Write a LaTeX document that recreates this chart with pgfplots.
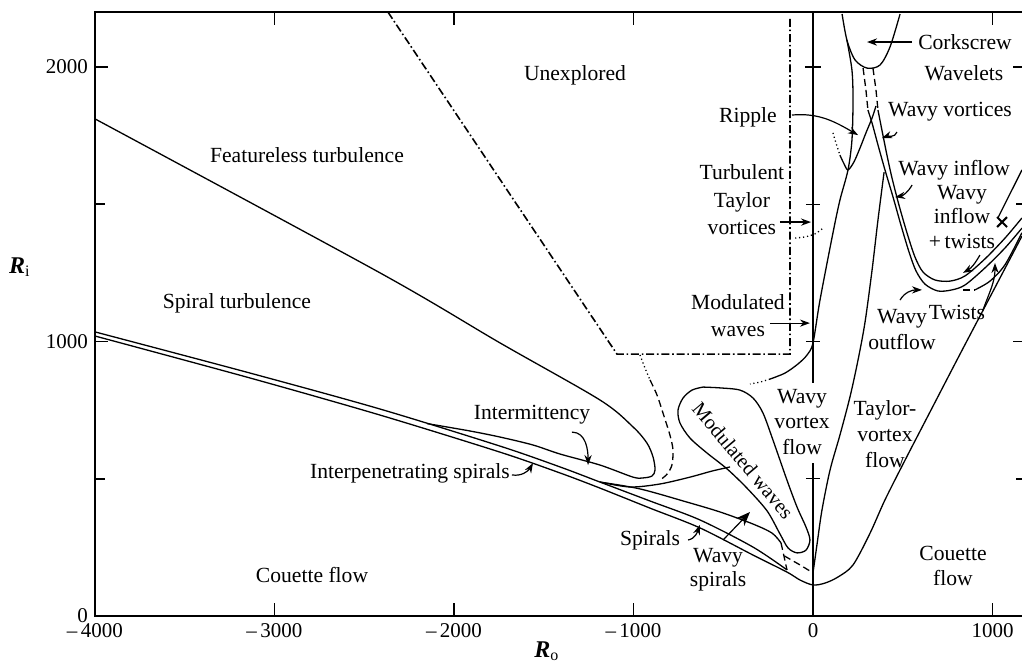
\documentclass[border=0pt]{standalone}
\usepackage{fontspec}
\setmainfont{Liberation Serif}
\usepackage{pgfplots}
\pgfplotsset{compat=1.18}
\usetikzlibrary{arrows.meta}
\begin{document}
\begin{tikzpicture}[
  lab/.style={font=\fontsize{10.8}{12.8}\selectfont, align=center, inner sep=0pt},
  arr/.style={line width=0.6pt, -{Stealth[length=5pt,width=3.6pt]}},
  dd/.style={dash pattern=on 4pt off 1.4pt on 0.8pt off 1.4pt},
  dsh/.style={dash pattern=on 3.5pt off 2pt},
  dtt/.style={dash pattern=on 0.6pt off 1.4pt},
]
\begin{axis}[
  scale only axis, width=465.35pt, height=301.95pt,
  xmin=-4000, xmax=1185, ymin=0, ymax=2200,
  axis line style={line width=1pt},
  tick align=inside,
  major tick length=6.5pt, minor tick length=5pt,
  tick style={black, line width=0.8pt},
  xtick={-4000,-3000,-2000,-1000,0,1000},
  xticklabels={\textendash\,4000,\textendash\,3000,\textendash\,2000,\textendash\,1000,0,1000},
  ytick={0,1000,2000}, minor ytick={500,1500},
  yticklabels={0,1000,2000},
  xticklabel pos=lower, yticklabel pos=left,
  tick label style={font=\fontsize{10.5}{12}\selectfont},
  clip=false,
  every axis plot/.append style={black, line width=0.65pt, mark=none},
]
% R_o = 0 line
\addplot[black, line width=0.75pt] coordinates {(0,0) (0,557)};
\addplot[black, line width=0.75pt] coordinates {(0,849) (0,2200)};
\draw[line width=0.7pt] (axis cs:-40,500) -- (axis cs:40,500);
\draw[line width=0.7pt] (axis cs:-40,1000) -- (axis cs:40,1000);
\draw[line width=0.7pt] (axis cs:-40,1500) -- (axis cs:40,1500);
\draw[line width=0.7pt] (axis cs:-45,2000) -- (axis cs:45,2000);

% unexplored boundary (dash-dot)
\addplot[black, dd, line width=0.8pt] coordinates {(-2368,2200) (-1092,954) (-128,954) (-128,2180)};

% featureless turbulence / intermittency
\addplot[black, smooth] coordinates {(-4000,1811) (-2412,1250) (-1744,995) (-1187,787) (-1003,689) (-925,630) (-891,579) (-880,532) (-897,510) (-947,503) (-1003,506) (-1187,550) (-1409,590) (-1560,623) (-1744,652) (-1911,674) (-2150,701)};

% interpenetrating spirals (double line)
\addplot[black, smooth] coordinates {(-4000,1035) (-3136,885) (-2412,754) (-1744,619) (-1409,543) (-1187,488) (-908,419) (-630,350) (-334,251) (-145,168)};
\addplot[black, smooth] coordinates {(-4000,1020) (-3136,867) (-2412,732) (-1744,597) (-1409,521) (-1187,466) (-908,393) (-630,321) (-334,222) (-145,160) (-72,131) (0,113) (67,120) (139,142) (223,186) (318,302) (401,423) (513,568) (669,765) (819,954) (986,1162) (1164,1384)};

% wavy spirals boundary
\addplot[black, smooth] coordinates {(-1187,488) (-964,463) (-702,415) (-518,379) (-334,335) (-228,302) (-178,266)};
\addplot[black, dsh] coordinates {(-178,266) (-162,219) (-145,168)};
\addplot[black, dsh] coordinates {(-160,219) (-72,186) (0,157)};

% curve to modulated waves
\addplot[black, smooth] coordinates {(-1187,488) (-1019,470) (-852,481) (-685,506) (-563,528) (-462,543)};

% modulated waves loop
\addplot[black, smooth] coordinates {(-613,834) (-518,831) (-407,823) (-334,794) (-279,740) (-223,641) (-145,495) (-89,397) (-39,324) (-17,277) (-39,240) (-89,230) (-139,248) (-184,299) (-256,383) (-368,466) (-479,536) (-591,594) (-685,648) (-741,703) (-752,750) (-724,794) (-674,823) (-613,834)};

% dotted/dashed boundary below unexplored corner
\addplot[black, dtt] coordinates {(-964,951) (-936,903) (-908,860)};
\addplot[black, dsh, smooth] coordinates {(-908,860) (-869,805) (-836,740) (-797,659) (-780,605) (-786,550) (-813,517) (-852,495)};

% wavy vortex onset (steep)
\addplot[black, smooth] coordinates {(0,157) (22,259) (50,386) (95,532) (150,659) (206,798) (251,933) (290,1071) (329,1260) (362,1443) (396,1617)};

% big U (wavy inflow / outflow)
\addplot[black, dsh] coordinates {(279,1996) (295,1916) (306,1843)};
\addplot[black, smooth] coordinates {(306,1843) (329,1796) (362,1716) (401,1625) (446,1526) (490,1424) (535,1326) (574,1257) (624,1209) (696,1184) (774,1188) (847,1206) (958,1268) (1070,1341) (1164,1413)};
\addplot[black, dsh] coordinates {(334,1996) (351,1916) (362,1843)};
\addplot[black, smooth] coordinates {(362,1843) (384,1770) (412,1679) (440,1596) (479,1497) (524,1395) (568,1308) (613,1253) (680,1224) (763,1220) (847,1239) (958,1301) (1070,1377) (1164,1450)};
\addplot[black, dsh] coordinates {(836,1188) (902,1188)};
\addplot[black, smooth] coordinates {(902,1188) (986,1220) (1070,1280) (1164,1396)};
\addplot[black] coordinates {(1030,1450) (1164,1625)};
\addplot[black, only marks, mark=x, mark size=3.5pt, mark options={line width=1pt}] coordinates {(1053,1435)};

% corkscrew
\addplot[black, smooth] coordinates {(162,2193) (189,2098) (234,2026) (301,1996) (373,2007) (429,2073) (485,2193)};

% modulated waves upper boundary through ripple
\addplot[black, smooth] coordinates {(189,2098) (217,1989) (223,1880) (217,1734) (195,1625) (150,1515) (111,1395) (39,1151) (0,995) (-33,951) (-84,918) (-156,885) (-240,863)};
\addplot[black, dtt] coordinates {(-240,863) (-295,852) (-351,845)};

% ripple V
\addplot[black, dtt] coordinates {(111,1760) (128,1723) (150,1679)};
\addplot[black, smooth] coordinates {(150,1679) (173,1647) (195,1625) (228,1654) (262,1705) (295,1760) (329,1814) (351,1858)};

% turbulent Taylor vortices dotted arc
\addplot[black, dtt, smooth] coordinates {(-100,1377) (-45,1381) (11,1392) (56,1413)};

% labels
\node[lab] at (axis cs:-1326,1971) {Unexplored};
\node[lab] at (axis cs:-2819,1679) {Featureless turbulence};
\node[lab] at (axis cs:-3209,1140) {Spiral turbulence};
\node[lab] at (axis cs:-1565,732) {Intermittency};
\node[lab] at (axis cs:-2245,521) {Interpenetrating spirals};
\node[lab] at (axis cs:-2791,149) {Couette flow};
\node[lab] at (axis cs:-908,277) {Spirals};
\node[lab, font=\fontsize{10.8}{12}\selectfont] at (axis cs:-529,168) {Wavy\\spirals};
\node[lab, font=\fontsize{10.2}{12}\selectfont, rotate=-49.8] at (axis cs:-390,566) {Modulated waves};
\node[lab] at (axis cs:-61,707) {Wavy\\vortex\\flow};
\node[lab, font=\fontsize{10.8}{13.7}\selectfont] at (axis cs:-396,1516) {Turbulent\\Taylor\\vortices};
\node[lab] at (axis cs:-362,1818) {Ripple};
\node[lab, font=\fontsize{10.8}{13.5}\selectfont] at (axis cs:-418,1093) {Modulated\\waves};
\node[lab] at (axis cs:847,2091) {Corkscrew};
\node[lab] at (axis cs:841,1978) {Wavelets};
\node[lab] at (axis cs:763,1836) {Wavy vortices};
\node[lab] at (axis cs:786,1625) {Wavy inflow};
\node[lab, font=\fontsize{10.8}{12.3}\selectfont] at (axis cs:830,1454) {Wavy\\inflow\\+\,twists};
\node[lab, font=\fontsize{10.8}{13}\selectfont] at (axis cs:496,1042) {Wavy\\outflow};
\node[lab] at (axis cs:802,1107) {Twists};
\node[lab] at (axis cs:401,663) {Taylor-\\vortex\\flow};
\node[lab] at (axis cs:780,182) {Couette\\flow};
\node[font=\fontsize{12}{14}\selectfont, inner sep=0pt] at (axis cs:-4418,1271) {{\bfseries\itshape R}\textsubscript{i}};
\node[font=\fontsize{12}{14}\selectfont, inner sep=0pt] at (axis cs:-1482,-128) {{\bfseries\itshape R}\textsubscript{o}};

% arrows
\draw[arr] (axis cs:-1343,670) to[out=0,in=90] (axis cs:-1253,550);
\draw[arr] (axis cs:-1677,514) to[out=-10,in=-120] (axis cs:-1560,557);
\draw[arr] (axis cs:-696,277) to[out=10,in=-110] (axis cs:-630,332);
\draw[line width=0.6pt, -{Stealth[length=7pt,width=5.5pt]}] (axis cs:-501,277) -- (axis cs:-351,379);
\draw[arr] (axis cs:-184,1435) -- (axis cs:-11,1435);
\draw[arr] (axis cs:-240,1067) -- (axis cs:-17,1067);
\draw[arr] (axis cs:-117,1825) to[out=5,in=150] (axis cs:251,1752);
\draw[arr] (axis cs:552,2091) -- (axis cs:301,2091);
\draw[arr] (axis cs:468,1763) to[out=-110,in=20] (axis cs:384,1741);
\draw[arr] (axis cs:552,1570) to[out=-120,in=10] (axis cs:457,1526);
\draw[arr] (axis cs:930,1315) to[out=-120,in=30] (axis cs:836,1250);
\draw[arr] (axis cs:485,1151) to[out=60,in=180] (axis cs:607,1188);
\draw[arr] (axis cs:947,1115) to[out=70,in=-90] (axis cs:1014,1286);
\end{axis}
\pgfresetboundingbox
\path[use as bounding box] (-47.5pt,-25pt) rectangle (463.5pt,308pt);
\end{tikzpicture}
\end{document}
